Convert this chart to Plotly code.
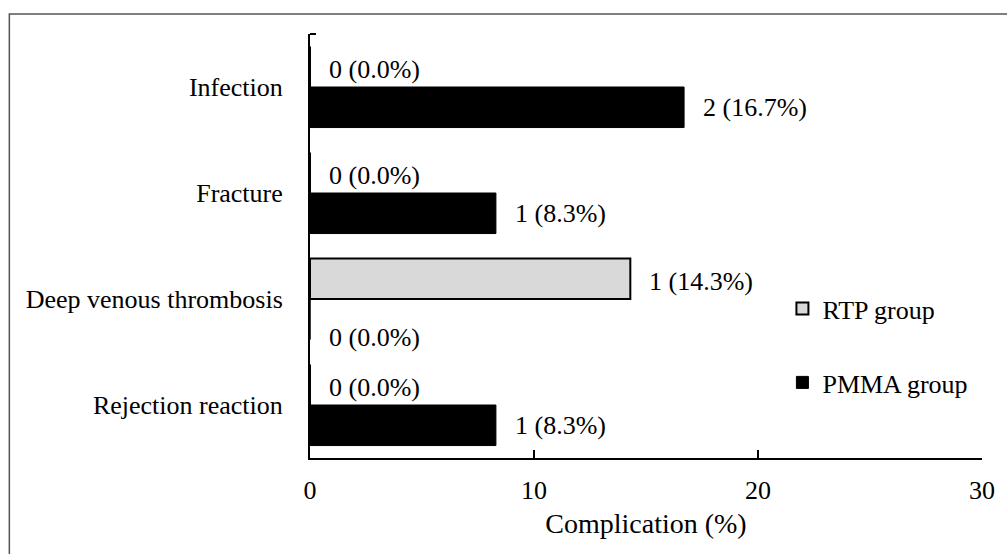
import plotly.graph_objects as go

# Complication categories, listed bottom to top on the y axis
categories = ["Rejection reaction", "Deep venous thrombosis", "Fracture", "Infection"]

# Complication rates (%) and case counts per group
rtp_pct = [0.0, 14.3, 0.0, 0.0]
rtp_n = [0, 1, 0, 0]
pmma_pct = [8.3, 0.0, 8.3, 16.7]
pmma_n = [1, 0, 1, 2]

x_ticks = [0, 10, 20, 30]

FONT = "Liberation Serif, Times New Roman, serif"
FS = 26

fig = go.Figure()

# PMMA added first so that it sits below the RTP bar inside each category
fig.add_trace(go.Bar(
    y=categories, x=pmma_pct, orientation="h", name="PMMA group",
    legend="legend2",
    marker=dict(color="#000000", line=dict(color="#000000", width=1)),
))
fig.add_trace(go.Bar(
    y=categories, x=rtp_pct, orientation="h", name="RTP group",
    legend="legend",
    marker=dict(color="#d9d9d9", line=dict(color="#000000", width=2)),
))

# value labels: "count (percent%)" placed just past the end of each bar
annotations = []
for cat, n, p in zip(categories, rtp_n, rtp_pct):
    annotations.append(dict(
        x=p, y=cat, xref="x", yref="y", text=f"{n} ({p:.1f}%)",
        showarrow=False, xanchor="left", yanchor="middle",
        xshift=17, yshift=18, font=dict(family=FONT, size=FS, color="#000"),
    ))
for cat, n, p in zip(categories, pmma_n, pmma_pct):
    # an empty PMMA bar carries its label a little lower, clear of the RTP label
    annotations.append(dict(
        x=p, y=cat, xref="x", yref="y", text=f"{n} ({p:.1f}%)",
        showarrow=False, xanchor="left", yanchor="middle",
        xshift=17, yshift=-38 if p == 0 else -20,
        font=dict(family=FONT, size=FS, color="#000"),
    ))

legend_style = dict(
    xanchor="left", yanchor="top",
    font=dict(family=FONT, size=FS, color="#000"),
    bgcolor="rgba(0,0,0,0)",
)

fig.update_layout(
    width=1007, height=554,
    margin=dict(l=310, r=22, t=34, b=96),
    paper_bgcolor="white", plot_bgcolor="white",
    barmode="group", bargap=0.235, bargroupgap=0,
    font=dict(family=FONT, size=FS, color="#000"),
    annotations=annotations,
    showlegend=True,
    legend=dict(x=0.703, y=0.408, **legend_style),
    legend2=dict(x=0.703, y=0.2335, **legend_style),
    shapes=[
        # outer frame around the figure
        dict(type="rect", xref="paper", yref="paper",
             x0=(8 - 310) / 675, x1=(1012 - 310) / 675,
             y0=(458 - 560) / 424, y1=(458 - 14) / 424,
             line=dict(color="#555555", width=1.5), layer="below"),
        # small cap at the top of the value axis
        dict(type="line", xref="paper", yref="paper",
             x0=0, x1=6 / 675, y0=1, y1=1,
             line=dict(color="#000", width=2)),
    ],
)

fig.update_xaxes(
    range=[0, 30], tickvals=x_ticks, ticktext=[str(t) for t in x_ticks],
    showgrid=False, zeroline=False,
    showline=True, linecolor="#000", linewidth=2,
    ticks="inside", ticklen=8, tickwidth=2, tickcolor="#000",
    ticklabelstandoff=8,
    tickfont=dict(family=FONT, size=FS, color="#000"),
    title=dict(text="Complication (%)", standoff=9,
               font=dict(family=FONT, size=28, color="#000")),
)
fig.update_yaxes(
    type="category", categoryorder="array", categoryarray=categories,
    showgrid=False, zeroline=False,
    showline=True, linecolor="#000", linewidth=2,
    ticks="", ticklabelstandoff=20,
    tickfont=dict(family=FONT, size=FS, color="#000"),
)

fig.write_html("out.html")
